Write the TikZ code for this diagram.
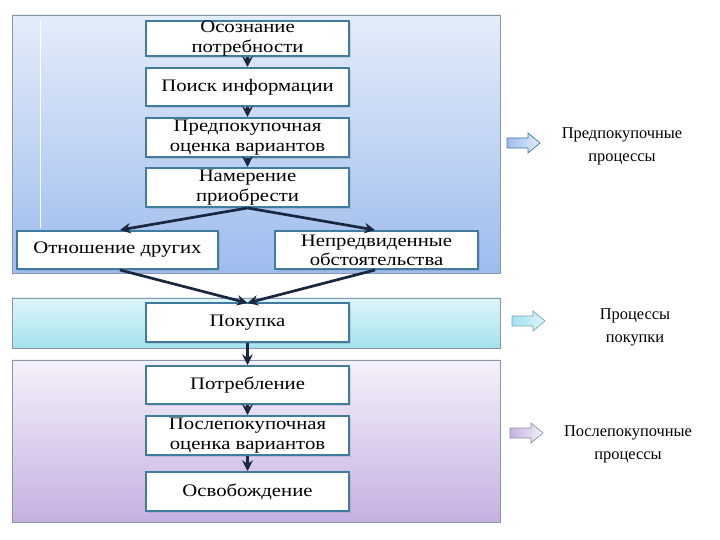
\documentclass[tikz,border=0pt]{standalone}
\usepackage{fontspec}
\setmainfont{Liberation Serif}[FakeStretch=1.18]
\newfontfamily\sideserif{Liberation Serif}
\usetikzlibrary{arrows.meta,shadows}
\definecolor{boxline}{HTML}{3F7C9E}
\definecolor{arrowc}{HTML}{1B2740}
\definecolor{blueTop}{HTML}{E4EDFA}
\definecolor{blueBot}{HTML}{9EBCEE}
\definecolor{cyanTop}{HTML}{DDF5F9}
\definecolor{cyanBot}{HTML}{A4E2EE}
\definecolor{lavTop}{HTML}{F5F1FA}
\definecolor{lavBot}{HTML}{C6B0E2}
\definecolor{regline}{HTML}{8A96A8}
\tikzset{
  stagebox/.style={draw=boxline, line width=1.7pt, fill=white, minimum width=6.09cm,
    inner sep=0pt, align=center, font=\fontsize{15}{16.5}\selectfont,
    drop shadow={shadow xshift=0.06cm, shadow yshift=-0.06cm, opacity=0.25}},
  flow/.style={draw=arrowc, line width=2.3pt, -{Stealth[length=9pt,width=9pt]}},
  sidetext/.style={align=center, font=\sideserif\fontsize{14}{19.5}\selectfont},
  region/.style={draw=regline, line width=0.7pt},
}
\begin{document}
\begin{tikzpicture}[x=0.03cm,y=-0.03cm]
\useasboundingbox (0,0) rectangle (720,540);
% regions
\shade[top color=blueTop, bottom color=blueBot] (12,15) rectangle (500,273);
\draw[region] (12,15) rectangle (500,273);
\draw[white, line width=0.8pt] (40,20) -- (40,228);
\shade[top color=cyanTop, bottom color=cyanBot] (12,298) rectangle (500,348);
\draw[region] (12,298) rectangle (500,348);
\shade[top color=lavTop, bottom color=lavBot] (12,360) rectangle (500,522);
\draw[region] (12,360) rectangle (500,522);
% boxes
\node[stagebox, minimum height=0.99cm] (b1) at (247.5,38.5) {Осознание\\потребности};
\node[stagebox, minimum height=1.14cm] (b2) at (247.5,87) {Поиск информации};
\node[stagebox, minimum height=1.17cm] (b3) at (247.5,137.5) {Предпокупочная\\оценка вариантов};
\node[stagebox, minimum height=1.17cm] (b4) at (247.5,187.5) {Намерение\\приобрести};
\node[stagebox, minimum height=1.14cm, minimum width=6.03cm] (bl) at (117.5,250) {Отношение других};
\node[stagebox, minimum height=1.14cm] (br) at (376.5,250) {Непредвиденные\\обстоятельства};
\node[stagebox, minimum height=1.17cm] (bp) at (247.5,322.5) {Покупка};
\node[stagebox, minimum height=1.14cm] (c1) at (247.5,385) {Потребление};
\node[stagebox, minimum height=1.17cm] (c2) at (247.5,435.5) {Послепокупочная\\оценка вариантов};
\node[stagebox, minimum height=1.17cm] (c3) at (247.5,491.5) {Освобождение};
% connectors
\coordinate (tl) at (120,230);
\coordinate (tr) at (375,230);
\coordinate (sl) at (120,270);
\coordinate (sr) at (375,270);
\coordinate (tp) at (247.5,303);
\draw[flow] (b1.south) -- (b2.north);
\draw[flow] (b2.south) -- (b3.north);
\draw[flow] (b3.south) -- (b4.north);
\draw[flow] (b4.south) -- (tl);
\draw[flow] (b4.south) -- (tr);
\draw[flow] (sl) -- (tp);
\draw[flow] (sr) -- (tp);
\draw[flow] (bp.south) -- (c1.north);
\draw[flow] (c1.south) -- (c2.north);
\draw[flow] (c2.south) -- (c3.north);
% side arrows
\shade[left color=blueBot, right color=blueTop, draw=boxline, line width=0.6pt]
  (507,138) -- (528,138) -- (528,133) -- (540,143) -- (528,153) -- (528,148) -- (507,148) -- cycle;
\shade[left color=cyanBot, right color=cyanTop, draw=boxline!70, line width=0.6pt]
  (512,316) -- (533,316) -- (533,311) -- (545,321) -- (533,331) -- (533,326) -- (512,326) -- cycle;
\shade[left color=lavBot, right color=lavTop, draw=regline, line width=0.6pt]
  (510,428) -- (531,428) -- (531,423) -- (543,433) -- (531,443) -- (531,438) -- (510,438) -- cycle;
\node[sidetext] (s1) at (622,146) {Предпокупочные\\процессы};
\node[sidetext] (s2) at (635,327) {Процессы\\покупки};
\node[sidetext] (s3) at (628,444) {Послепокупочные\\процессы};
\end{tikzpicture}
\end{document}
